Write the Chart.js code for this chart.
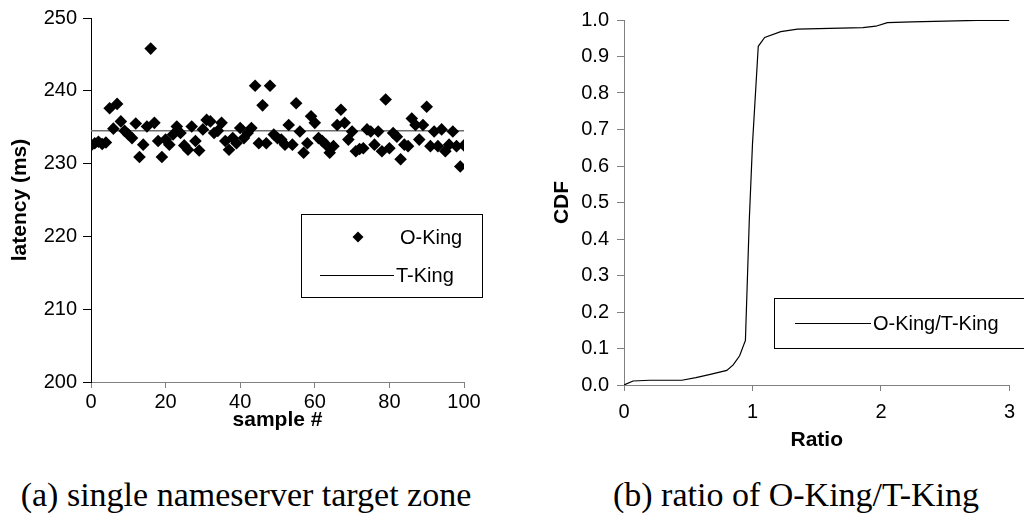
<!DOCTYPE html>
<html>
<head>
<meta charset="utf-8">
<script src="https://cdn.jsdelivr.net/npm/chart.js@4.4.1/dist/chart.umd.min.js"></script>
<style>
  html, body { margin: 0; padding: 0; background: #fff; }
  body { width: 1024px; height: 527px; position: relative; overflow: hidden; }
  .panel { position: absolute; top: 0; width: 512px; height: 460px; }
  .caption {
    position: absolute; top: 475px; width: 512px; text-align: center; white-space: nowrap;
    font-family: "Liberation Serif", "DejaVu Serif", serif; font-size: 34px; line-height: 40px; color: #000;
  }
</style>
</head>
<body>
<div class="panel" style="left:0"><canvas id="latencyChart" width="512" height="460"></canvas></div>
<div class="panel" style="left:512px"><canvas id="ratioChart" width="512" height="460"></canvas></div>
<div class="caption" style="left:-10px">(a) single nameserver target zone</div>
<div class="caption" style="left:540px">(b) ratio of O-King/T-King</div>

<script>
// (a) latency per sample, O-King scatter + T-King reference level
const sampleIds = Array.from({ length: 101 }, (_, i) => i);
const oKingLatency = [
  232.5, 232.8, 233.0, 232.7, 232.9, 237.6, 234.8, 238.2, 235.8, 234.5,
  234.0, 233.5, 235.5, 230.9, 232.6, 235.1, 245.8, 235.6, 233.1, 230.9,
  233.3, 232.6, 234.0, 235.1, 234.2, 232.5, 231.9, 235.1, 233.1, 231.8,
  234.7, 236.0, 235.8, 234.2, 234.5, 235.6, 233.1, 231.9, 233.5, 232.8,
  234.9, 233.5, 234.2, 234.9, 240.7, 232.8, 238.0, 232.8, 240.7, 234.0,
  233.5, 233.3, 232.6, 235.3, 232.6, 238.3, 234.4, 231.5, 232.8, 236.5,
  235.6, 233.5, 233.1, 232.6, 231.5, 232.4, 235.3, 237.4, 235.6, 233.3,
  234.4, 231.7, 232.0, 232.1, 234.7, 234.4, 232.6, 234.4, 231.7, 238.8,
  232.1, 234.2, 233.7, 230.6, 232.6, 232.4, 236.2, 235.3, 233.3, 235.3,
  237.8, 232.4, 234.4, 232.4, 234.7, 231.7, 232.6, 234.4, 232.4, 229.6,
  232.5
];
const tKingLatency = 234.5;
const tKingSpan = [0, 100];
const latencyTicks = { min: 200, max: 250, step: 10 };
const sampleTicks = { min: 0, max: 100, step: 20 };

// (b) CDF of the O-King/T-King ratio
const ratioValues = [0, 0.07, 0.2, 0.45, 0.56, 0.68, 0.8, 0.85, 0.9, 0.945, 0.975, 1.0, 1.045,
  1.095, 1.22, 1.35, 1.6, 1.86, 1.96, 2.05, 2.24, 2.5, 2.75, 3.0];
const cdfValues = [0, 0.011, 0.013, 0.013, 0.02, 0.03, 0.04, 0.055, 0.08, 0.122, 0.45, 0.66, 0.928,
  0.952, 0.968, 0.975, 0.977, 0.979, 0.983, 0.993, 0.995, 0.997, 0.999, 0.999];
const ratioTicks = { min: 0, max: 3, step: 1 };
const cdfTicks = { min: 0, max: 1, step: 0.1 };

const FONT = '"Liberation Sans", Arial, sans-serif';
const tickFont = { family: FONT, size: 20 };
const titleFont = { family: FONT, size: 21, weight: 'bold' };

// legend drawn as a framed box inside the plot, like the original
const boxLegend = {
  id: 'boxLegend',
  afterDraw(chart, args, opts) {
    const ctx = chart.ctx;
    ctx.save();
    ctx.fillStyle = '#fff';
    ctx.fillRect(opts.x, opts.y, opts.w, opts.h);
    ctx.strokeStyle = '#000';
    ctx.lineWidth = 1;
    ctx.strokeRect(opts.x + 0.5, opts.y + 0.5, opts.w, opts.h);
    ctx.font = `20px ${FONT}`;
    ctx.textBaseline = 'middle';
    chart.data.datasets.forEach((ds, i) => {
      const row = opts.rows[i];
      ctx.fillStyle = '#000';
      if (ds.showLine) {
        ctx.beginPath();
        ctx.moveTo(row.lineFrom, row.y + 0.5);
        ctx.lineTo(row.lineTo, row.y + 0.5);
        ctx.strokeStyle = '#000';
        ctx.stroke();
      } else {
        const r = 5.5;
        ctx.beginPath();
        ctx.moveTo(row.mark, row.y - r);
        ctx.lineTo(row.mark + r, row.y);
        ctx.lineTo(row.mark, row.y + r);
        ctx.lineTo(row.mark - r, row.y);
        ctx.closePath();
        ctx.fill();
      }
      ctx.fillText(ds.label, row.text, row.y + 1);
    });
    ctx.restore();
  }
};

function axis(ticks, opts) {
  return {
    type: 'linear',
    min: ticks.min,
    max: ticks.max,
    ticks: {
      stepSize: ticks.step,
      color: '#000',
      font: tickFont,
      padding: opts.padding,
      callback: opts.format
    },
    grid: { drawOnChartArea: false, color: opts.color, tickLength: opts.tickLength },
    border: { color: opts.color, width: 1 },
    title: { display: true, text: opts.title, color: '#000', font: titleFont, padding: opts.titlePad },
    afterFit: opts.fit
  };
}

new Chart(document.getElementById('latencyChart'), {
  type: 'scatter',
  data: {
    datasets: [
      {
        label: 'O-King',
        data: sampleIds.map((s, i) => ({ x: s, y: oKingLatency[i] })),
        pointStyle: 'rectRot',
        pointRadius: 6.3,
        backgroundColor: '#000',
        borderWidth: 0,
        showLine: false
      },
      {
        label: 'T-King',
        data: tKingSpan.map(s => ({ x: s, y: tKingLatency })),
        showLine: true,
        borderColor: '#6e6e6e',
        borderWidth: 1.5,
        pointRadius: 0
      }
    ]
  },
  options: {
    responsive: false,
    animation: false,
    layout: { padding: { top: 16, right: 48, left: 0, bottom: 0 } },
    plugins: {
      legend: { display: false },
      tooltip: { enabled: false },
      boxLegend: {
        x: 301, y: 214, w: 181, h: 83,
        rows: [
          { y: 237, mark: 358, text: 400 },
          { y: 275, lineFrom: 320, lineTo: 394, text: 396 }
        ]
      }
    },
    scales: {
      x: axis(sampleTicks, {
        color: '#808080', tickLength: 6, padding: 2, title: 'sample #',
        titlePad: { top: 0, bottom: 27 },
        fit: s => { s.height = 78; }
      }),
      y: axis(latencyTicks, {
        color: '#000', tickLength: 8, padding: 6, title: 'latency (ms)',
        titlePad: { top: 8, bottom: 0 },
        fit: s => { s.width = 91; }
      })
    }
  },
  plugins: [boxLegend]
});

new Chart(document.getElementById('ratioChart'), {
  type: 'scatter',
  data: {
    datasets: [{
      label: 'O-King/T-King',
      data: ratioValues.map((r, i) => ({ x: r, y: cdfValues[i] })),
      showLine: true,
      borderColor: '#000',
      borderWidth: 1.2,
      pointRadius: 0,
      tension: 0
    }]
  },
  options: {
    responsive: false,
    animation: false,
    layout: { padding: { top: 16, right: 8, left: 0, bottom: 0 } },
    plugins: {
      legend: { display: false },
      tooltip: { enabled: false },
      boxLegend: {
        x: 262, y: 298, w: 270, h: 50,
        rows: [{ y: 323, lineFrom: 283, lineTo: 359, text: 361 }]
      }
    },
    scales: {
      x: axis(ratioTicks, {
        color: '#808080', tickLength: 6, padding: 9, title: 'Ratio',
        titlePad: { top: 0, bottom: 7 },
        fit: s => { s.height = 75; }
      }),
      y: axis(cdfTicks, {
        color: '#808080', tickLength: 7, padding: 8, title: 'CDF',
        titlePad: { top: 38, bottom: 0 },
        format: v => v.toFixed(1),
        fit: s => { s.width = 112; }
      })
    }
  },
  plugins: [boxLegend]
});
</script>
</body>
</html>
